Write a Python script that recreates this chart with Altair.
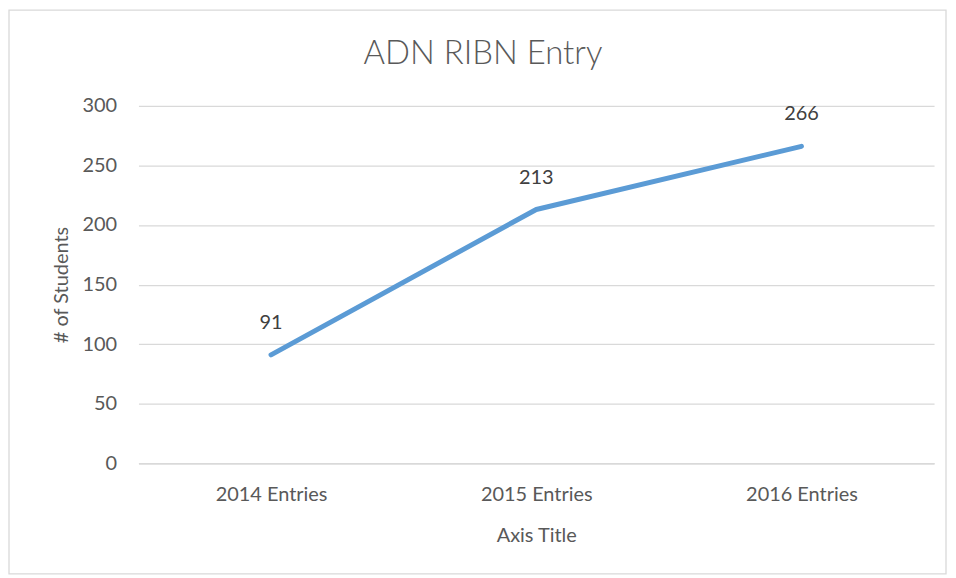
import altair as alt
import pandas as pd

categories = ["2014 Entries", "2015 Entries", "2016 Entries"]
students = [91, 213, 266]
chart_title = ["ADN RIBN Entry"]

df = pd.DataFrame({"cat": categories, "val": students})

FONT = "Lato"
W, H = 799, 359

x = alt.X("cat:N", sort=categories,
          scale=alt.Scale(type="point", padding=0.5),
          axis=alt.Axis(title="Axis Title", labelAngle=0, ticks=False, tickSize=0,
                        domain=True, domainColor="#d9d9d9", domainWidth=1.3,
                        labelPadding=31, labelBaseline="middle",
                        labelFontSize=20, labelColor="#595959", labelFont=FONT,
                        titleFontSize=20, titleColor="#595959", titleFont=FONT,
                        titleFontWeight="normal", titleY=73, titleBaseline="middle"))
y = alt.Y("val:Q",
          scale=alt.Scale(domain=[0, 300], nice=False),
          axis=alt.Axis(title="# of Students", values=[0, 50, 100, 150, 200, 250, 300],
                        ticks=False, tickSize=0, domain=False, grid=True,
                        gridColor="#d9d9d9", gridWidth=1.3,
                        labelPadding=22, labelFontSize=20, labelColor="#595959",
                        labelFont=FONT, titleFontSize=20, titleColor="#595959",
                        titleFont=FONT, titleFontWeight="normal",
                        titleX=-77, titleY=H / 2, titleAlign="center",
                        titleBaseline="middle", titleAngle=270))

border = alt.Chart(pd.DataFrame({"a": [0]})).mark_rect(
    fill=None, stroke="#d9d9d9", strokeWidth=1.3, clip=False
).encode(x=alt.value(-130), x2=alt.value(811), y=alt.value(-96), y2=alt.value(470))

title = alt.Chart(pd.DataFrame({"t": chart_title})).mark_text(
    fontSize=33, font=FONT, fontWeight=300, color="#595959",
    align="center", baseline="alphabetic"
).encode(x=alt.value(346), y=alt.value(-42), text="t:N")

line = alt.Chart(df).mark_line(color="#5B9BD5", strokeWidth=5, strokeCap="round",
                               strokeJoin="round").encode(x=x, y=y)

labels = alt.Chart(df).mark_text(dy=-32, fontSize=20, color="#404040", font=FONT,
                                 baseline="middle").encode(
    x=alt.X("cat:N", sort=categories), y="val:Q", text="val:Q")

chart = alt.layer(border, title, line, labels).properties(
    width=W, height=H,
    autosize=alt.AutoSizeParams(type="none"),
    padding={"left": 131, "top": 97, "right": 14, "bottom": 112},
    background="white",
).configure_view(stroke=None)

chart.save("out.html", embed_options={"renderer": "svg", "actions": False})
